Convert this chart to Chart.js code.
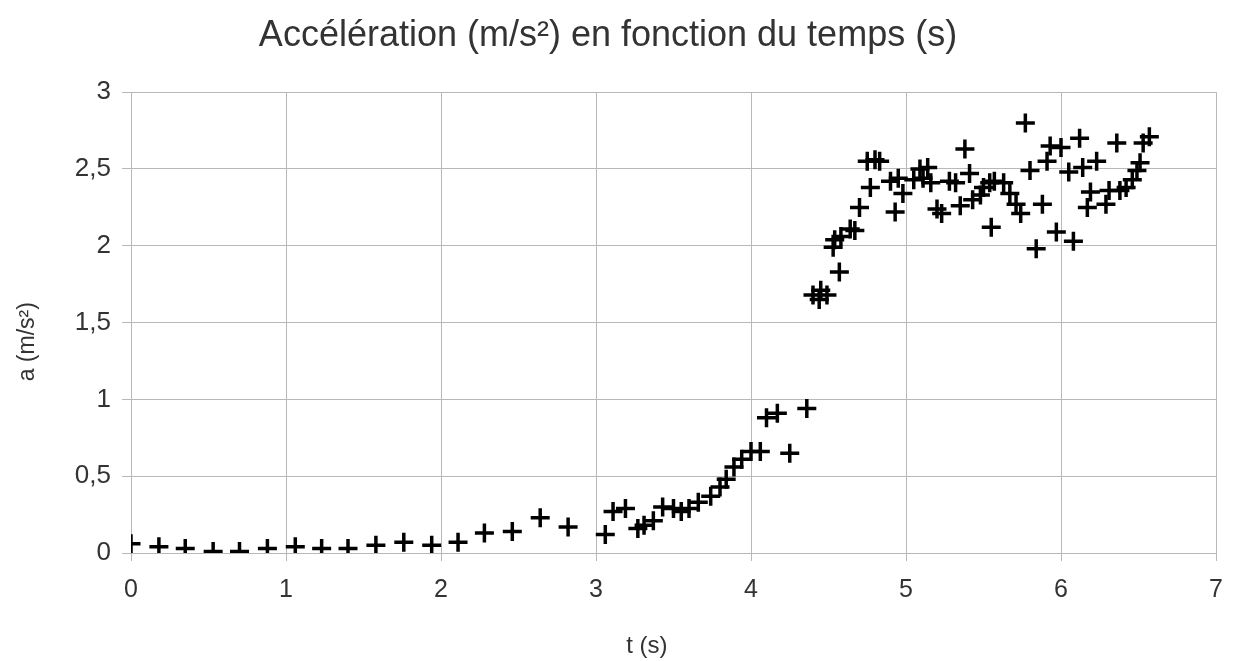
<!DOCTYPE html>
<html>
<head>
<meta charset="utf-8">
<script src="https://cdn.jsdelivr.net/npm/chart.js"></script>
<style>
  html, body { margin: 0; padding: 0; background: #fff; }
  #wrap { width: 1234px; height: 661px; }
</style>
</head>
<body>
<div id="wrap"><canvas id="chart" width="1234" height="661"></canvas></div>
<script>
const TITLE = "Accélération (m/s²) en fonction du temps (s)";
// trailing no-break spaces nudge the axis titles off-centre like in the original
const X_TITLE = "t (s)" + "\u00a0".repeat(8);
const Y_TITLE = "a (m/s²)" + "\u00a0".repeat(6);

// time (s)
const tValues = [
  0.00, 0.18, 0.35, 0.53, 0.70, 0.88, 1.06, 1.23, 1.40, 1.58,
  1.76, 1.94, 2.11, 2.28, 2.46, 2.64, 2.82, 3.06, 3.11, 3.19,
  3.27, 3.31, 3.37, 3.43, 3.50, 3.55, 3.60, 3.66, 3.74, 3.80,
  3.84, 3.89, 3.94, 4.00, 4.06, 4.10, 4.17, 4.25, 4.36, 4.40,
  4.44, 4.45, 4.49, 4.53, 4.54, 4.57, 4.58, 4.64, 4.67, 4.70,
  4.75, 4.77, 4.80, 4.83, 4.90, 4.93, 4.95, 4.98, 5.05, 5.09,
  5.11, 5.14, 5.16, 5.20, 5.23, 5.28, 5.32, 5.35, 5.38, 5.41,
  5.43, 5.48, 5.50, 5.54, 5.55, 5.57, 5.63, 5.67, 5.71, 5.74,
  5.77, 5.80, 5.84, 5.88, 5.91, 5.93, 5.97, 6.00, 6.05, 6.08,
  6.12, 6.14, 6.17, 6.19, 6.23, 6.29, 6.31, 6.36, 6.38, 6.42,
  6.46, 6.49, 6.51, 6.53, 6.57
];

// acceleration (m/s²)
const aValues = [
  0.06, 0.04, 0.03, 0.01, 0.01, 0.03, 0.04, 0.03, 0.03, 0.05,
  0.07, 0.05, 0.07, 0.13, 0.14, 0.23, 0.17, 0.12, 0.27, 0.29,
  0.16, 0.18, 0.21, 0.30, 0.29, 0.27, 0.29, 0.33, 0.37, 0.43,
  0.48, 0.56, 0.61, 0.66, 0.66, 0.88, 0.91, 0.65, 0.94, 1.68,
  1.65, 1.71, 1.68, 1.99, 2.04, 1.83, 2.06, 2.11, 2.10, 2.25,
  2.55, 2.38, 2.56, 2.55, 2.42, 2.22, 2.44, 2.34, 2.43, 2.50,
  2.44, 2.51, 2.41, 2.24, 2.21, 2.42, 2.41, 2.26, 2.63, 2.47,
  2.30, 2.33, 2.38, 2.41, 2.12, 2.42, 2.41, 2.34, 2.27, 2.21,
  2.80, 2.49, 1.98, 2.27, 2.55, 2.65, 2.09, 2.64, 2.48, 2.03,
  2.70, 2.51, 2.25, 2.35, 2.55, 2.27, 2.36, 2.67, 2.36, 2.38,
  2.43, 2.49, 2.54, 2.67, 2.71
];

const FONT = "'Liberation Sans', Arial, sans-serif";
const GRID = "#b8b8b8";
const TEXT = "#333";

const points = tValues.map((t, i) => ({ x: t, y: aValues[i] }));

new Chart(document.getElementById("chart"), {
  type: "scatter",
  data: {
    datasets: [{
      data: points,
      pointStyle: "cross",
      pointRadius: 9.5,
      pointBorderWidth: 3.5,
      borderColor: "#000",
      backgroundColor: "#000",
    }],
  },
  options: {
    responsive: false,
    animation: false,
    layout: { padding: { left: 0, right: 18, top: 0, bottom: 0 } },
    plugins: {
      legend: { display: false },
      tooltip: { enabled: false },
      title: {
        display: true,
        text: TITLE,
        color: TEXT,
        font: { family: FONT, size: 36, weight: "normal" },
        padding: { top: 14, bottom: 35 },
      },
    },
    scales: {
      x: {
        type: "linear",
        min: 0,
        max: 7,
        ticks: {
          stepSize: 1,
          color: TEXT,
          padding: 14,
          font: { family: FONT, size: 25 },
        },
        grid: { color: GRID, tickLength: 8, tickColor: GRID },
        border: { color: GRID },
        title: {
          display: true,
          text: X_TITLE,
          color: TEXT,
          font: { family: FONT, size: 24 },
          padding: { top: 0, bottom: 0 },
        },
        afterFit: (scale) => {
          scale.height = 108;
          scale.paddingRight = 0; // label overflow would otherwise push the right edge in
        },
      },
      y: {
        min: 0,
        max: 3,
        ticks: {
          stepSize: 0.5,
          color: TEXT,
          padding: 11,
          font: { family: FONT, size: 26 },
          callback: (v) => String(v).replace(".", ","),
        },
        grid: { color: GRID, tickLength: 9, tickColor: GRID },
        border: { color: GRID },
        title: {
          display: true,
          text: Y_TITLE,
          color: TEXT,
          font: { family: FONT, size: 23 },
          padding: { top: 14, bottom: 0 },
        },
        afterFit: (scale) => { scale.width = 131; },
      },
    },
  },
});
</script>
</body>
</html>
